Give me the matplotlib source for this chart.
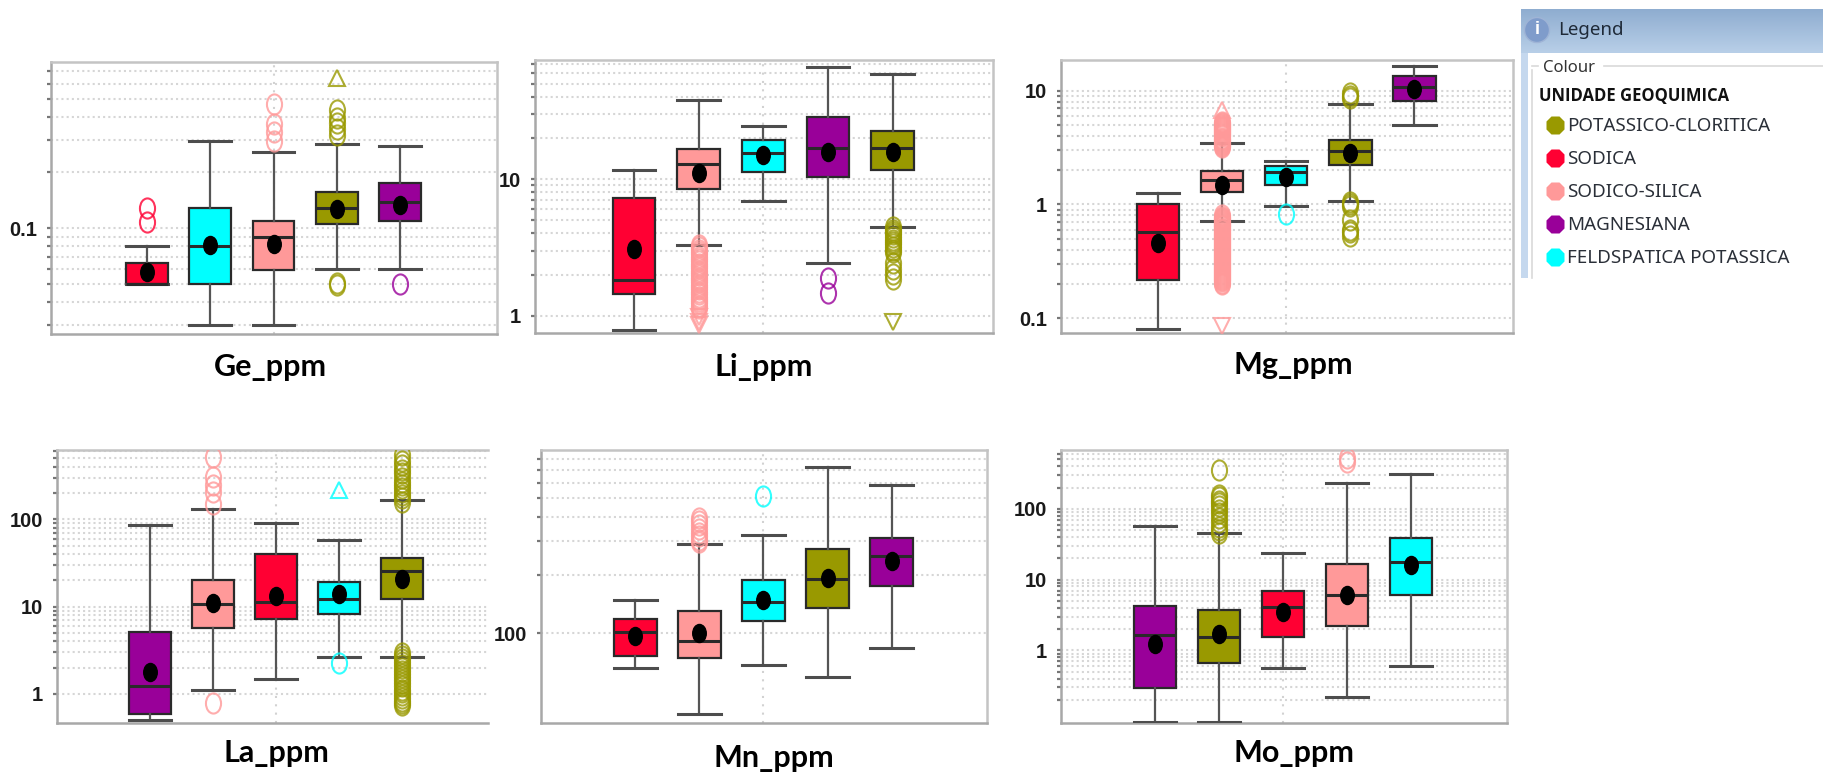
import numpy as np
import matplotlib
matplotlib.use("Agg")
import matplotlib.pyplot as plt
from matplotlib.patches import Circle, Rectangle
from matplotlib.path import Path
from matplotlib.ticker import FixedLocator, FuncFormatter, NullFormatter
from matplotlib.transforms import Affine2D

W, H = 1823, 776

# colours of the geochemical units
PC = "#999900"
SO = "#ff0033"
SS = "#ff9999"
MA = "#990099"
FE = "#00ffff"

legend_title = "UNIDADE GEOQUIMICA"
legend_names = ["POTASSICO-CLORITICA", "SODICA", "SODICO-SILICA", "MAGNESIANA", "FELDSPATICA POTASSICA"]
legend_colors = [PC, SO, SS, MA, FE]

# Ge
ge_colors = [SO, FE, SS, PC, MA]
ge_hi = [0.08, 0.296, 0.258, 0.284, 0.277]
ge_q3 = [0.065, 0.128, 0.109, 0.157, 0.176]
ge_med = [0.05, 0.08, 0.0895, 0.129, 0.138]
ge_q1 = [0.05, 0.05, 0.0595, 0.105, 0.109]
ge_lo = [0.05, 0.03, 0.03, 0.06, 0.06]
ge_mean = [0.058, 0.0814, 0.082, 0.1265, 0.133]
ge_out = [[0.128, 0.1086], [], [0.466, 0.364, 0.331, 0.296],
          [0.436, 0.395, 0.367, 0.342, 0.318, 0.0505, 0.0495], [0.05]]
ge_tri_up = [[], [], [], [0.645], []]
ge_tri_down = [[], [], [], [], []]

# Li
li_colors = [SO, SS, FE, MA, PC]
li_hi = [11.6, 37.8, 24.5, 65.9, 58.6]
li_q3 = [7.3, 16.5, 19.2, 28.7, 22.4]
li_med = [1.82, 12.8, 15.5, 16.9, 17.0]
li_q1 = [1.45, 8.5, 11.2, 10.3, 11.6]
li_lo = [0.79, 3.28, 6.9, 2.41, 4.47]
li_mean = [3.07, 11.1, 14.9, 15.7, 15.7]
li_out = [[],
          [3.29, 3.16, 3.04, 2.92, 2.81, 2.7, 2.6, 2.5, 2.4, 2.31, 2.22, 2.13, 2.05, 1.97,
           1.9, 1.82, 1.75, 1.68, 1.62, 1.56, 1.5, 1.44, 1.38, 1.33, 1.28, 1.23, 1.18, 1.14],
          [],
          [1.89, 1.47],
          [4.47, 4.25, 4.11, 3.95, 3.78, 3.6, 3.47, 3.33, 3.19, 3.05, 2.93, 2.41, 2.21, 2.03, 1.87]]
li_tri_up = [[], [], [], [], []]
li_tri_down = [[], [0.97, 0.9, 0.85], [], [], [0.9]]

# Mg
mg_colors = [SO, SS, FE, PC, MA]
mg_hi = [1.25, 3.51, 2.39, 7.69, 16.7]
mg_q3 = [1.0, 1.96, 2.19, 3.68, 13.5]
mg_med = [0.575, 1.63, 1.95, 2.93, 10.8]
mg_q1 = [0.217, 1.275, 1.49, 2.23, 8.2]
mg_lo = [0.08, 0.71, 0.96, 1.08, 5.05]
mg_mean = [0.457, 1.49, 1.76, 2.83, 10.4]
mg_out = [[],
          [3.2, 3.27, 3.34, 3.41, 3.49, 3.56, 3.64, 3.72, 3.8, 3.88, 3.97, 4.05, 4.14, 4.23,
           4.32, 4.41, 4.51, 4.61, 4.71, 4.81, 4.92, 5.02, 5.13, 5.24, 5.36,
           0.8, 0.78, 0.765, 0.75, 0.735, 0.72, 0.705, 0.69, 0.675, 0.66, 0.65, 0.64, 0.625,
           0.61, 0.6, 0.59, 0.575, 0.56, 0.55, 0.54, 0.53, 0.52, 0.51, 0.5, 0.49, 0.48, 0.47,
           0.46, 0.45, 0.44, 0.43, 0.42, 0.41, 0.405, 0.395, 0.39, 0.38, 0.375, 0.365, 0.36,
           0.35, 0.345, 0.335, 0.33, 0.325, 0.32, 0.31, 0.305, 0.3, 0.295, 0.285, 0.28, 0.275,
           0.27, 0.265, 0.26, 0.255, 0.25, 0.245, 0.24, 0.235, 0.23, 0.225, 0.22, 0.215, 0.21,
           0.205, 0.2],
          [0.83],
          [9.5, 9.1, 8.6, 1.06, 1.0, 0.96, 0.73, 0.6, 0.57, 0.53],
          []]
mg_tri_up = [[], [6.8], [], [], []]
mg_tri_down = [[], [0.0857], [], [], []]

# La
la_colors = [MA, SS, SO, FE, PC]
la_hi = [86, 132, 90, 58.5, 168]
la_q3 = [5.19, 20, 39.7, 19.3, 36]
la_med = [1.22, 10.8, 11.3, 12.4, 25.8]
la_q1 = [0.59, 5.67, 7.2, 8.35, 12.3]
la_lo = [0.508, 1.1, 1.47, 2.63, 2.63]
la_mean = [1.79, 10.9, 13.3, 13.8, 20.7]
la_out = [[],
          [514, 303, 248, 208, 150, 0.79],
          [],
          [2.27],
          [550, 470, 420, 370, 337, 300, 270, 247, 227, 205, 190, 175, 160,
           2.95, 2.72, 2.52, 2.33, 2.15, 1.99, 1.84, 1.7, 1.57, 1.45, 1.34, 1.24,
           1.12, 1.05, 0.97, 0.9, 0.84, 0.78, 0.74]]
la_tri_up = [[], [], [], [217], []]
la_tri_down = [[], [], [], [], []]

# Mn
mn_colors = [SO, SS, FE, PC, MA]
mn_hi = [148, 290, 324, 726, 583]
mn_q3 = [119, 130, 188, 272, 310]
mn_med = [102, 91.6, 144.6, 192, 251]
mn_q1 = [76.7, 74.9, 116, 135, 176]
mn_lo = [66, 38.2, 69, 59.3, 84]
mn_mean = [96.5, 101, 149, 194, 236]
mn_out = [[], [394, 380, 364, 347, 330, 318, 305, 295], [514], [], []]
mn_tri_up = [[], [], [], [], []]
mn_tri_down = [[], [], [], [], []]

# Mo
mo_colors = [MA, PC, SO, SS, FE]
mo_hi = [58, 46, 23.9, 230, 312]
mo_q3 = [4.27, 3.75, 6.88, 16.7, 38.5]
mo_med = [1.63, 1.54, 4.05, 6.1, 17.9]
mo_q1 = [0.29, 0.67, 1.53, 2.18, 6.04]
mo_lo = [0.098, 0.098, 0.557, 0.217, 0.594]
mo_mean = [1.23, 1.68, 3.44, 5.98, 16.2]
mo_out = [[], [355, 158, 145, 131, 120, 110, 97, 88, 74, 65, 56, 50, 46], [], [519, 466], []]
mo_tri_up = [[], [], [], [], []]
mo_tri_down = [[], [], [], [], []]

plt.rcParams["font.family"] = ["Liberation Sans", "DejaVu Sans"]
fig = plt.figure(figsize=(W / 100, H / 100), dpi=100, facecolor="white")

# tall ellipses, the original picture was stretched
ellipse = Path.unit_circle().transformed(Affine2D().scale(0.75, 1.0))


def panel(box, xlim, ylim, grid_min, colors, hi, q3, med, q1, lo, mean, out, tri_up, tri_down, name, name_xy,
          right=True):
    l, t, r, b = box
    ax = fig.add_axes([l / W, 1 - b / H, (r - l) / W, (b - t) / H])
    ax.set_yscale("log")
    stats = []
    for i in range(5):
        stats.append({"med": med[i], "q1": q1[i], "q3": q3[i], "whislo": lo[i], "whishi": hi[i],
                      "mean": mean[i], "fliers": []})
    parts = ax.bxp(stats, positions=range(1, 6), widths=0.66, capwidths=0.66, patch_artist=True,
                   showmeans=True, manage_ticks=False, zorder=3,
                   boxprops=dict(edgecolor="#2a2a2a", linewidth=1.6),
                   medianprops=dict(color="#2a2a2a", linewidth=2.2),
                   whiskerprops=dict(color="#555555", linewidth=1.6),
                   capprops=dict(color="#4d4d4d", linewidth=2.2),
                   meanprops=dict(marker=ellipse, markerfacecolor="black", markeredgecolor="black",
                                  markersize=13))
    for patch, c in zip(parts["boxes"], colors):
        patch.set_facecolor(c)
    for i in range(5):
        ax.plot([i + 1] * len(out[i]), out[i], ls="none", marker=ellipse, ms=14.5, mfc="none",
                mec=colors[i], mew=1.5, alpha=0.8, zorder=4)
        ax.plot([i + 1] * len(tri_up[i]), tri_up[i], ls="none", marker="^", ms=12, mfc="none",
                mec=colors[i], mew=1.5, alpha=0.8, zorder=4)
        ax.plot([i + 1] * len(tri_down[i]), tri_down[i], ls="none", marker="v", ms=12, mfc="none",
                mec=colors[i], mew=1.5, alpha=0.8, zorder=4)
    ax.axvline(3, color="#d2d2d2", lw=1.5, ls=(0, (1, 3)), zorder=1)
    ax.set_xlim(*xlim)
    ax.set_ylim(*ylim)
    ax.set_xticks([])
    # the source chart has no grid lines or ticks under grid_min
    decades = 10.0 ** np.arange(-3, 4)
    majors = [v for v in decades if grid_min * 0.999 <= v <= ylim[1]]
    minors = [d * s for d in decades for s in range(2, 10) if grid_min * 0.999 <= d * s <= ylim[1]]
    ax.yaxis.set_major_locator(FixedLocator(majors))
    ax.yaxis.set_minor_locator(FixedLocator(minors))
    ax.yaxis.set_major_formatter(FuncFormatter(lambda v, _: f"{v:g}"))
    ax.yaxis.set_minor_formatter(NullFormatter())
    ax.yaxis.grid(True, which="both", color="#d6d6d6", lw=1.5, ls=(0, (1, 1.5)), zorder=0)
    ax.set_axisbelow(True)
    ax.tick_params(axis="y", which="both", length=3, width=1.6, color="#777777", pad=7,
                   labelsize=14.5, labelcolor="#1a1a1a")
    for lab in ax.get_yticklabels():
        lab.set_fontweight("bold")
    for s in ax.spines.values():
        s.set_color("#c4c4c4")
        s.set_linewidth(1.8)
    ax.spines["left"].set_color("#a8a8a8")
    ax.spines["bottom"].set_color("#a8a8a8")
    if not right:
        ax.spines["right"].set_visible(False)
    fig.text(name_xy[0] / W, 1 - name_xy[1] / H, name, family="Lato", weight="bold", fontsize=22,
             ha="center", va="center", color="black")
    return ax


panel((51, 62, 497, 334), (-0.516, 6.53), (0.0269, 0.787), 0.03, ge_colors, ge_hi, ge_q3, ge_med, ge_q1, ge_lo,
      ge_mean, ge_out, ge_tri_up, ge_tri_down, "Ge_ppm", (270, 367))
panel((535, 60, 993, 333), (-0.53, 6.55), (0.746, 74.6), 1, li_colors, li_hi, li_q3, li_med, li_q1, li_lo,
      li_mean, li_out, li_tri_up, li_tri_down, "Li_ppm", (764, 367))
panel((1061, 60, 1513, 333), (-0.52, 6.54), (0.0738, 18.7), 0.1, mg_colors, mg_hi, mg_q3, mg_med, mg_q1, mg_lo,
      mg_mean, mg_out, mg_tri_up, mg_tri_down, "Mg_ppm", (1293, 365))
panel((57, 450, 488, 723), (-0.467, 6.356), (0.465, 624), 1, la_colors, la_hi, la_q3, la_med, la_q1, la_lo,
      la_mean, la_out, la_tri_up, la_tri_down, "La_ppm", (276, 753), right=False)
panel((541, 450, 987, 723), (-0.474, 6.49), (34.4, 887), 100, mn_colors, mn_hi, mn_q3, mn_med, mn_q1, mn_lo,
      mn_mean, mn_out, mn_tri_up, mn_tri_down, "Mn_ppm", (774, 758))
panel((1061, 450, 1507, 723), (-0.474, 6.495), (0.094, 680), 0.2, mo_colors, mo_hi, mo_q3, mo_med, mo_q1, mo_lo,
      mo_mean, mo_out, mo_tri_up, mo_tri_down, "Mo_ppm", (1294, 753))

# legend window, drawn in pixel coordinates on a full figure overlay
ov = fig.add_axes([0, 0, 1, 1], zorder=10)
ov.patch.set_alpha(0)
ov.axis("off")
grad = np.linspace(0, 1, 50).reshape(-1, 1)
ov.imshow(grad, extent=(1521, W, 53, 9), aspect="auto", cmap=matplotlib.colors.LinearSegmentedColormap.from_list(
    "bar", ["#8fadd0", "#b8cfe8"]), zorder=1)
ov.set_xlim(0, W)
ov.set_ylim(H, 0)
ov.add_patch(Rectangle((1521, 53), 7, 225, fc="#c5d8ee", ec="none", zorder=1))
ov.plot([1532, 1532], [70, 278], color="#d9d9d9", lw=1.2, zorder=2)
ov.plot([1532, 1538], [66, 66], color="#d9d9d9", lw=1.2, zorder=2)
ov.plot([1604, W], [66, 66], color="#d9d9d9", lw=1.2, zorder=2)
ov.add_patch(Circle((1537, 30), 12.5, fc="#7f9ccb", ec="#9fb4d6", lw=1, zorder=3))
ov.text(1537, 30, "i", color="white", weight="bold", fontsize=13, ha="center", va="center", zorder=4)
ov.text(1558, 30, "Legend", family="Noto Sans", fontsize=13.5, color="#1f2a38", va="center", zorder=4)
ov.text(1543, 68, "Colour", family="Noto Sans", fontsize=12, color="#333333", va="center", zorder=4)
ov.text(1539, 96, legend_title, family="Open Sans", weight="bold", fontsize=12, color="#111111",
        va="center", zorder=4)
for i, (n, c) in enumerate(zip(legend_names, legend_colors)):
    yy = 125 + i * 33
    ov.plot([1555], [yy], marker="8", ms=14, color=c, mec="none", zorder=4)
    ov.text(1567, yy + 1, n, family="Noto Sans", fontsize=13.5, color="#2a2f38", va="center", zorder=4)

fig.savefig("out.png", dpi=100)
